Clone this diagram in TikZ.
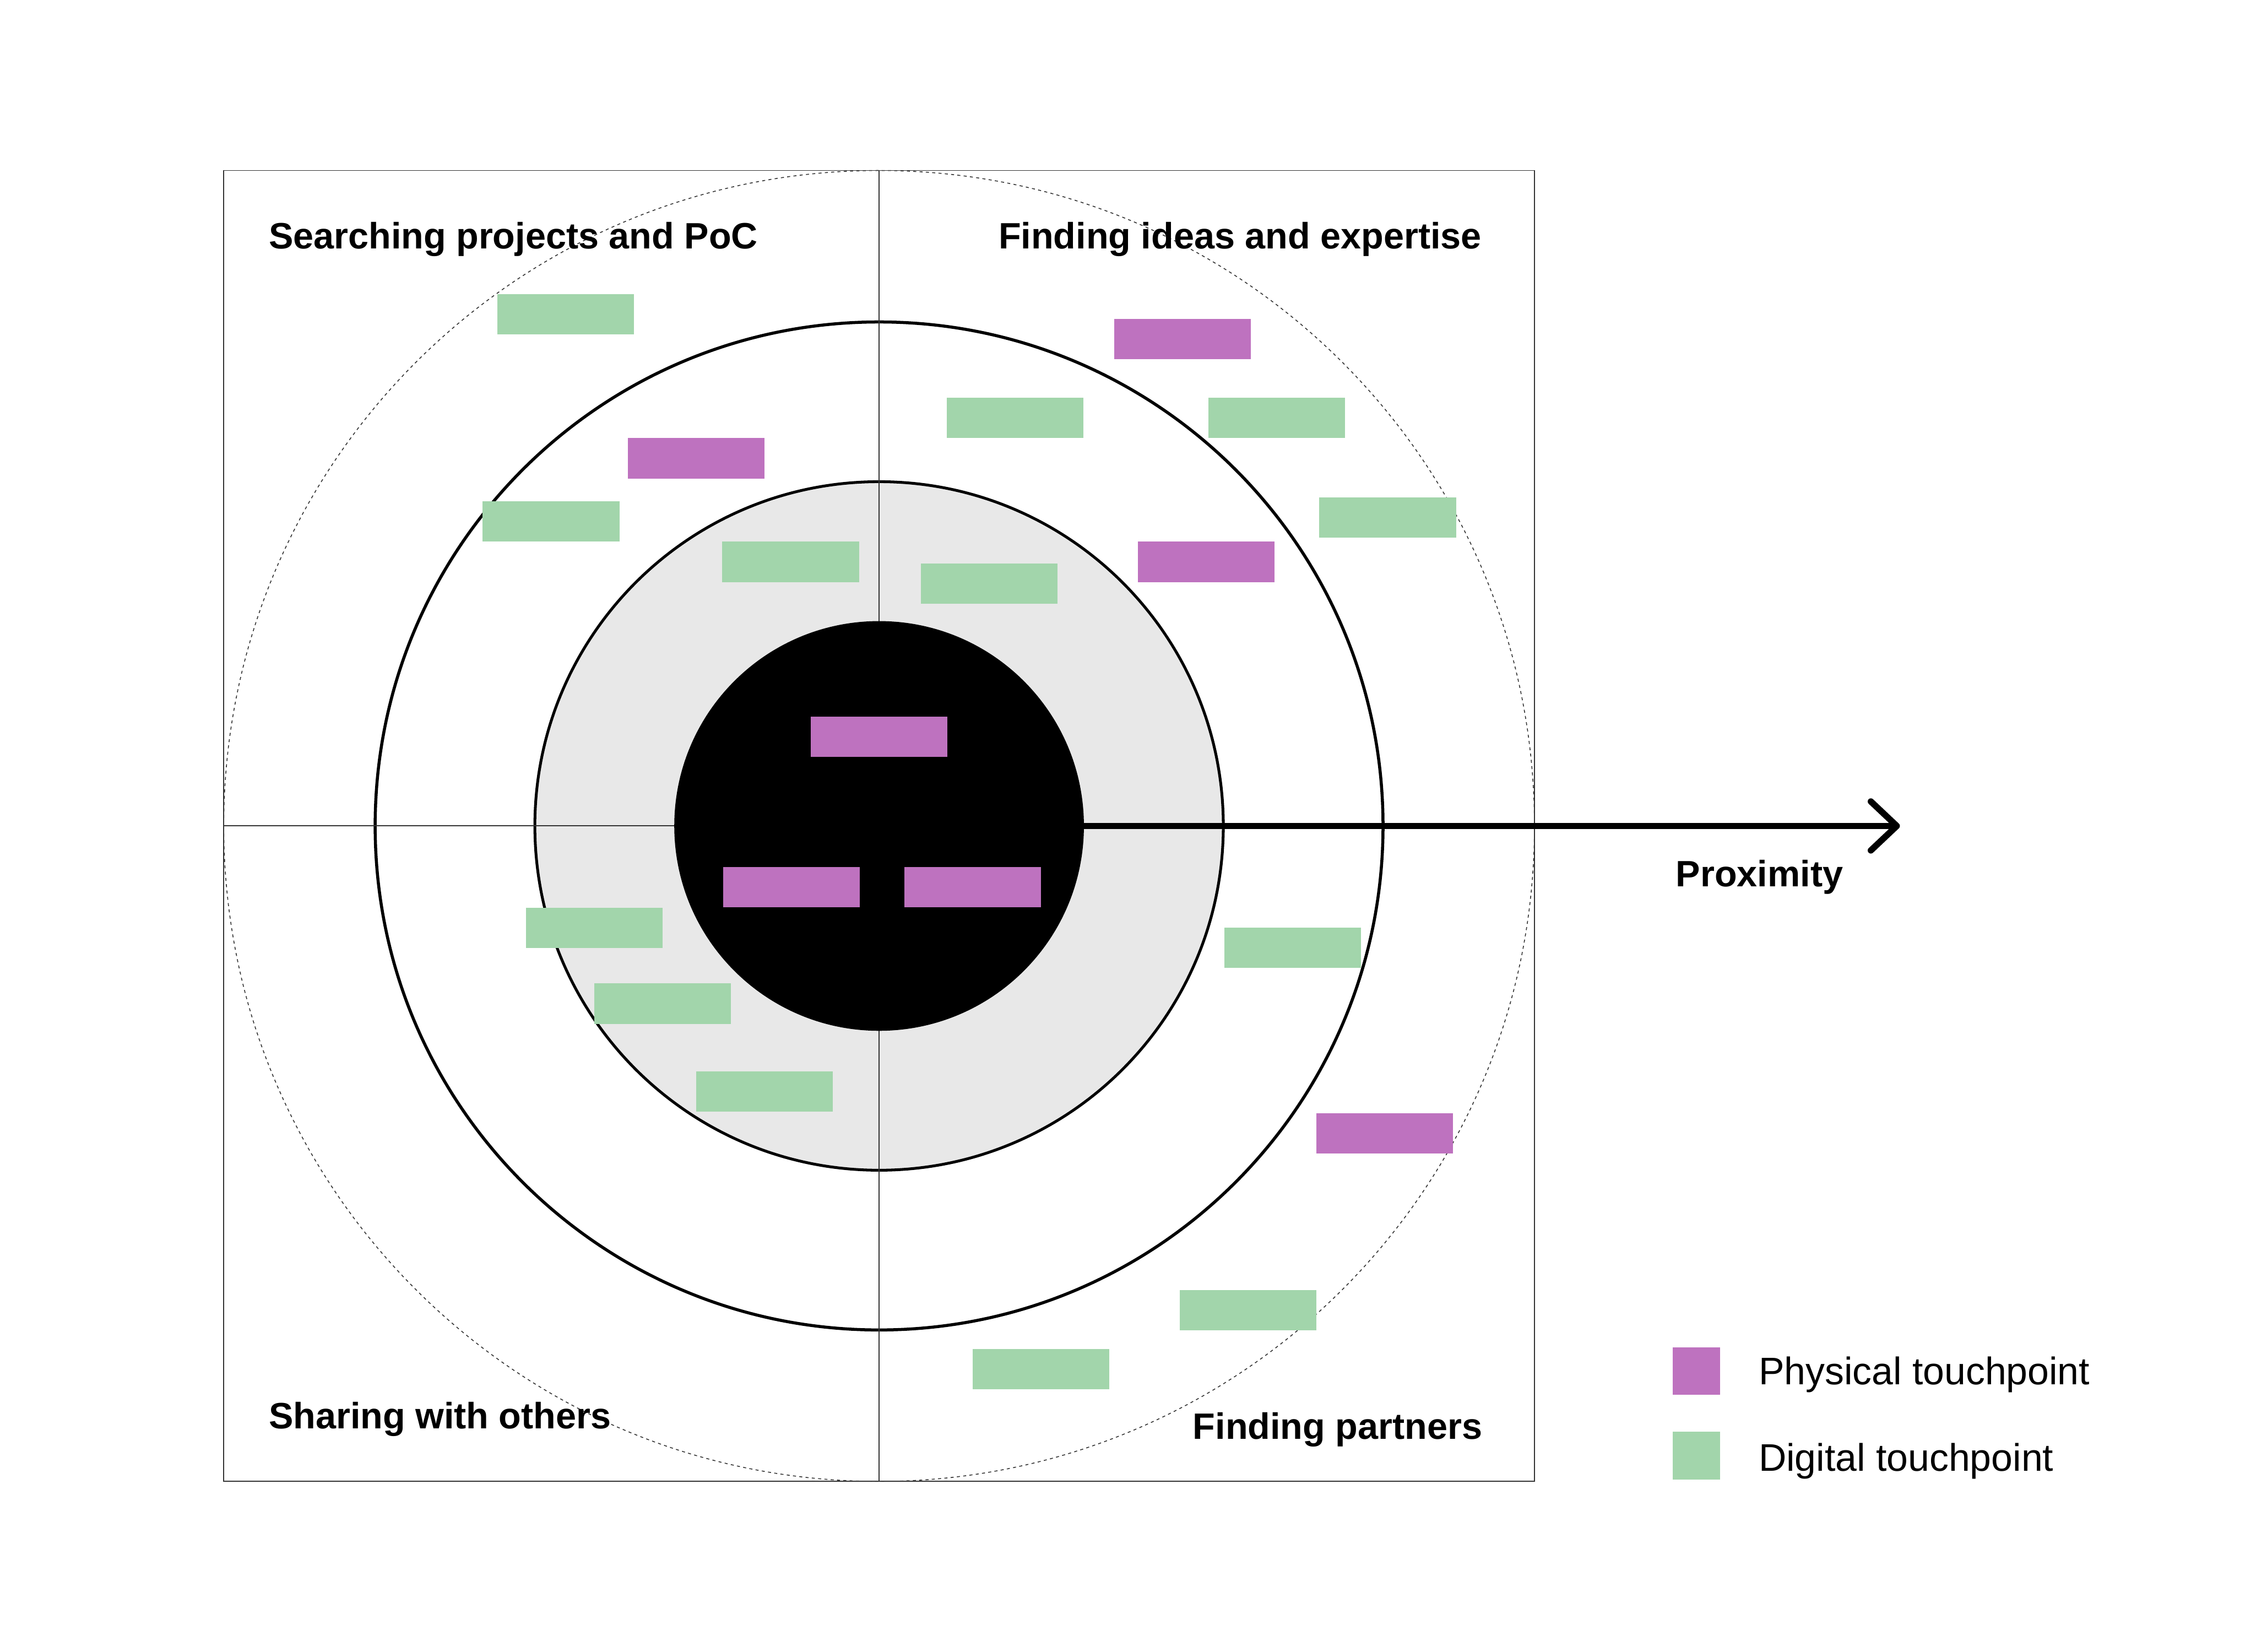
\documentclass[tikz,border=0pt]{standalone}
\usepackage{fontspec}
\setmainfont{Liberation Sans}
\usepackage{xcolor}
\usepackage{tikz}
\usetikzlibrary{arrows.meta, positioning}
\definecolor{physcolor}{HTML}{BE72BF}
\definecolor{digicolor}{HTML}{A2D5AB}
\definecolor{ringgray}{HTML}{E8E8E8}
\definecolor{framegray}{HTML}{333333}

\begin{document}
\begin{tikzpicture}[
    ring/.style={draw, circle, inner sep=0pt, outer sep=0pt},
    touch/.style={rectangle, minimum width=1.9cm, minimum height=0.56cm, inner sep=0pt},
    phys/.style={touch, fill=physcolor},
    digi/.style={touch, fill=digicolor},
    legbox/.style={rectangle, minimum size=0.664cm, inner sep=0pt},
    quad/.style={font=\bfseries\fontsize{14.5}{17}\selectfont, inner sep=0pt},
    legtext/.style={font=\fontsize{15.2}{18}\selectfont, inner sep=0pt}
]
    % Canvas
    \path[fill=white, use as bounding box] (-12.22,-11.48) rectangle (19.14,11.48);

    % Rings
    \node[ring, minimum size=18.22cm, draw=framegray, line width=0.34pt, dash pattern=on 1.2pt off 1.3pt] (outer) at (0,0) {};
    \node[draw=framegray, rectangle, minimum size=18.22cm, inner sep=0pt, outer sep=0pt, line width=0.4pt] (frame) at (0,0) {};
    \node[ring, minimum size=14.01cm, line width=1.2pt] (middle) at (0,0) {};
    \node[ring, minimum size=9.57cm, fill=ringgray, line width=1.1pt] (inner) at (0,0) {};

    % Quadrant axes
    \draw[framegray, line width=0.4pt] (frame.north) -- (frame.south);
    \draw[framegray, line width=0.4pt] (frame.west) -- (frame.east);

    \node[ring, minimum size=5.68cm, fill=black] (core) at (0,0) {};

    % Quadrant titles
    \node[quad, anchor=base west] (tl) at (-8.49,8.02) {Searching projects and PoC};
    \node[quad, anchor=base east] (tr) at (8.38,8.02) {Finding ideas and expertise};
    \node[quad, anchor=base west] (bl) at (-8.49,-8.38) {Sharing with others};
    \node[quad, anchor=base east] (br) at (8.39,-8.52) {Finding partners};

    % Digital touchpoints
    \node[digi] (d1) at (-4.36,7.11) {};
    \node[digi] (d2) at (-4.56,4.23) {};
    \node[digi] (d3) at (-1.23,3.67) {};
    \node[digi] (d4) at (1.89,5.67) {};
    \node[digi] (d5) at (5.53,5.67) {};
    \node[digi] (d6) at (7.07,4.29) {};
    \node[digi] (d7) at (1.53,3.37) {};
    \node[digi] (d8) at (5.75,-1.69) {};
    \node[digi] (d9) at (-3.96,-1.42) {};
    \node[digi] (d10) at (-3.01,-2.47) {};
    \node[digi] (d11) at (-1.59,-3.69) {};
    \node[digi] (d12) at (5.13,-6.73) {};
    \node[digi] (d13) at (2.25,-7.55) {};

    % Physical touchpoints
    \node[phys] (p1) at (-2.54,5.11) {};
    \node[phys] (p2) at (4.22,6.77) {};
    \node[phys] (p3) at (4.55,3.67) {};
    \node[phys] (p4) at (0.0,1.24) {};
    \node[phys] (p5) at (-1.22,-0.85) {};
    \node[phys] (p6) at (1.30,-0.85) {};
    \node[phys] (p7) at (7.03,-4.27) {};

    % Proximity axis
    \coordinate (tip) at (14.19,0);
    \draw[line width=2.5pt, -{Straight Barb[length=0.36cm, width=0.68cm, round]}] (core.east) -- (tip);
    \node[quad, anchor=base west] (prox) at (11.07,-0.84) {Proximity};

    % Legend
    \node[legbox, fill=physcolor] (legphys) at (11.36,-7.576) {};
    \node[legbox, fill=digicolor] (legdigi) at (11.36,-8.754) {};
    \node[legtext, anchor=base west] (legphystxt) at (12.22,-7.764) {Physical touchpoint};
    \node[legtext, anchor=base west] (legdigitxt) at (12.22,-8.966) {Digital touchpoint};
\end{tikzpicture}
\end{document}
